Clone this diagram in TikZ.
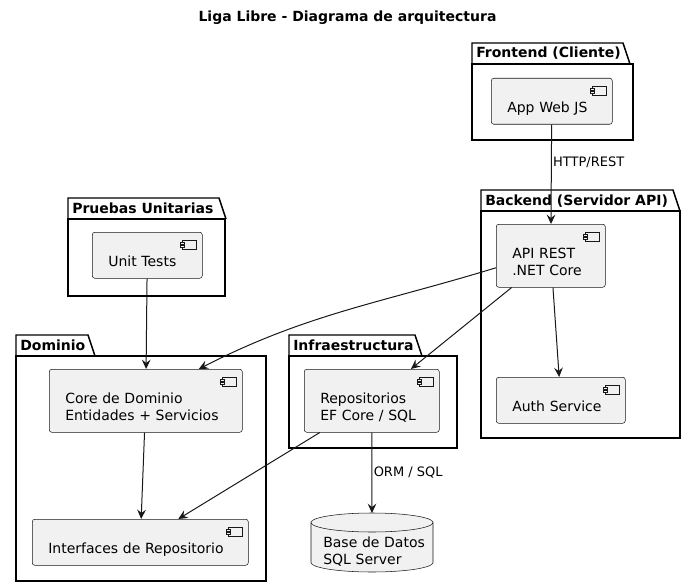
\documentclass[tikz,border=0pt]{standalone}
\usepackage{fontspec}
\setmainfont{DejaVu Sans}
\usetikzlibrary{arrows.meta,calc}

\definecolor{compfill}{HTML}{F1F1F1}
\definecolor{umlline}{HTML}{181818}

% package frame: name, left, tab top, tab end, right, bottom, title
\newcommand{\pkgbox}[7]{%
  \draw[pkgline] (#2,#3+21) -- (#2,#3) -- (#4,#3) -- (#4+7,#3+21);
  \draw[pkgline] (#2,#3+21) rectangle (#5,#6);
  \node[pkgtitle] (#1) at (#2+4,#3+15) {#7};
}

% small component sign in the upper right corner
\newcommand{\compicon}[1]{%
  \draw[iconline] ($(#1.north east)+(-20,8)$) rectangle ($(#1.north east)+(-6,17)$);
  \draw[iconline] ($(#1.north east)+(-22,10)$) rectangle ($(#1.north east)+(-18,12)$);
  \draw[iconline] ($(#1.north east)+(-22,13)$) rectangle ($(#1.north east)+(-18,15)$);
}

\begin{document}
\begin{tikzpicture}[x=0.75pt, y=-0.75pt,
    pkgline/.style={black, line width=1.1pt},
    pkgtitle/.style={anchor=base west, inner sep=0pt, font=\fontsize{10.5}{12.6}\selectfont\bfseries},
    comp/.style={draw=umlline, line width=0.4pt, fill=compfill, rounded corners=1.9pt,
      anchor=north west, align=left, inner xsep=12pt, inner ysep=0pt, text width=#1,
      font=\fontsize{10.5}{12.75}\selectfont,
      execute at begin node={\rule{0pt}{25.5pt}},
      execute at end node={\rule[-9pt]{0pt}{0pt}}},
    iconline/.style={draw=umlline, line width=0.4pt, fill=compfill},
    dbline/.style={draw=umlline, line width=0.4pt},
    dbtext/.style={anchor=north west, align=left, inner sep=0pt, text width=88pt,
      font=\fontsize{10.5}{12.75}\selectfont,
      execute at begin node={\rule{0pt}{25.5pt}},
      execute at end node={\rule[-6pt]{0pt}{0pt}}},
    dep/.style={draw=umlline, line width=0.75pt, -{Stealth[length=7pt, width=6.5pt, inset=2.5pt]}},
    edgelabel/.style={inner sep=1pt, font=\fontsize{9.75}{11.7}\selectfont}]
  \useasboundingbox (0,0) rectangle (695,588);

  % Title
  \node[font=\fontsize{10.5}{12.6}\selectfont\bfseries] (title) at (347.5,18) {Liga Libre - Diagrama de arquitectura};

  % Packages
  \pkgbox{fronttitle}{472}{43}{623}{633}{140}{Frontend (Cliente)}
  \pkgbox{backtitle}{481}{190}{673}{680}{438}{Backend (Servidor API)}
  \pkgbox{teststitle}{68}{198}{219}{225}{296}{Pruebas Unitarias}
  \pkgbox{domaintitle}{16}{335}{88}{266}{581}{Dominio}
  \pkgbox{infratitle}{289}{335}{415}{457}{448}{Infraestructura}

  % Components
  \node[comp=66.75pt] (app) at (491,78) {App Web JS};
  \node[comp=57.75pt] (api) at (496,224) {API REST\\.NET Core};
  \node[comp=72.75pt] (auth) at (496,377) {Auth Service};
  \node[comp=58.5pt] (unit) at (92,232) {Unit Tests};
  \node[comp=120.75pt] (core) at (49,369) {Core de Dominio\\Entidades + Servicios};
  \node[comp=138pt] (intf) at (32,519) {Interfaces de Repositorio};
  \node[comp=77.25pt] (repos) at (304,369) {Repositorios\\EF Core / SQL};
  \foreach \c in {app,api,auth,unit,core,intf,repos}{
    \compicon{\c}
  }

  % Database cylinder
  \coordinate (dbtop) at (372,513);
  \filldraw[dbline, fill=compfill] ($(dbtop)+(-61,9.5)$) -- ($(dbtop)+(-61,49.5)$)
    arc[start angle=180, end angle=360, x radius=45.75pt, y radius=7.125pt]
    -- ($(dbtop)+(61,9.5)$)
    arc[start angle=0, end angle=180, x radius=45.75pt, y radius=7.125pt] -- cycle;
  \draw[dbline] ($(dbtop)+(-61,9.5)$)
    arc[start angle=180, end angle=360, x radius=45.75pt, y radius=7.125pt];
  \node[dbtext] (db) at ($(dbtop)+(-49,0)$) {Base de Datos\\SQL Server};

  % Dependencies
  \draw[dep] (app) -- (api) node[pos=0.38, right, edgelabel] (httplabel) {HTTP/REST};
  \draw[dep] ([yshift=-9pt]api.west) to[out=197, in=27] ([xshift=39.75pt]core.north);
  \draw[dep] (api) -- (repos);
  \draw[dep] (api) -- (auth);
  \draw[dep] (unit) -- (core);
  \draw[dep] (core) -- (intf);
  \draw[dep] (repos) -- (intf);
  \draw[dep] (repos) -- (dbtop) node[pos=0.5, right, edgelabel] (ormlabel) {ORM / SQL};
\end{tikzpicture}
\end{document}
